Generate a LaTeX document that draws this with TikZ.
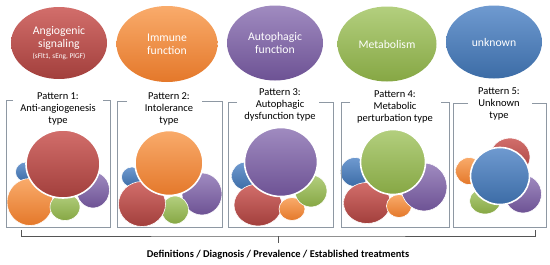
\documentclass[tikz,border=0pt]{standalone}
\usepackage{fontspec}
\setmainfont{Carlito}
\usetikzlibrary{shapes.geometric}
\definecolor{rT}{HTML}{D26E6B}\definecolor{rB}{HTML}{A23F3C}
\definecolor{oT}{HTML}{F9AB6B}\definecolor{oB}{HTML}{E4782A}
\definecolor{pT}{HTML}{A08BC0}\definecolor{pB}{HTML}{6D5294}
\definecolor{gT}{HTML}{B3CF7E}\definecolor{gB}{HTML}{86A744}
\definecolor{bT}{HTML}{6F9AD0}\definecolor{bB}{HTML}{3C6CA6}
\definecolor{frameC}{HTML}{8E98A3}
\definecolor{brC}{HTML}{555555}
\tikzset{
  blob/.style={ellipse, inner sep=0pt, outer sep=0pt, draw=white, line width=0.6pt},
  bigblob/.style={blob, line width=1.6pt},
  redF/.style={top color=rT, bottom color=rB},
  orF/.style={top color=oT, bottom color=oB},
  puF/.style={top color=pT, bottom color=pB},
  grF/.style={top color=gT, bottom color=gB},
  blF/.style={top color=bT, bottom color=bB},
  sz/.style 2 args={minimum width=#1pt, minimum height=#2pt},
  cat/.style={ellipse, inner sep=0pt, text=white, align=center, font=\fontsize{11.7}{13}\selectfont},
  patlabel/.style={align=center, inner sep=0pt, font=\fontsize{10.5}{12}\selectfont},
  frame/.style={draw=frameC, line width=0.9pt},
  brace/.style={draw=brC, line width=0.9pt},
}
\begin{document}
\begin{tikzpicture}[x=1pt, y=-1pt]
\useasboundingbox (0,0) rectangle (550,265);
% top category ellipses
\node[cat, redF, sz={96}{72}] (c1) at (59,43) {Angiogenic\\signaling\\[-2pt]{\fontsize{7.3}{8}\selectfont (sFlt1, sEng, PlGF)}};
\node[cat, orF, sz={101}{76}] (c2) at (167,44) {Immune\\function};
\node[cat, puF, sz={96}{75}] (c3) at (275,43) {Autophagic\\function};
\node[cat, grF, sz={99}{75}] (c4) at (387,44) {Metabolism};
\node[cat, blF, sz={96}{73}] (c5) at (494,42) {unknown};
% pattern labels
\node[patlabel] (l1) at (58,109) {Pattern 1:\\Anti-angiogenesis\\type};
\node[patlabel] (l2) at (169,109) {Pattern 2:\\Intolerance\\type};
\node[patlabel] (l3) at (280,105) {Pattern 3:\\Autophagic\\dysfunction type};
\node[patlabel] (l4) at (395,107) {Pattern 4:\\Metabolic\\perturbation type};
\node[patlabel] (l5) at (499,104) {Pattern 5:\\Unknown\\type};
% box 1
\node[blob, blF, sz={21}{20}] (b1s) at (26,172) {};
\node[blob, puF, sz={33}{36}] (b1p) at (93,190) {};
\node[blob, orF, sz={46}{47}] (b1o) at (30,202) {};
\node[blob, grF, sz={30}{27}] (b1g) at (65,207) {};
\node[bigblob, redF, sz={74}{68}] (b1r) at (63,164) {};
% box 2
\node[blob, blF, sz={21}{20}] (b2b) at (132,177) {};
\node[blob, puF, sz={40}{42}] (b2p) at (202,194) {};
\node[blob, grF, sz={27}{28}] (b2g) at (175,210) {};
\node[blob, redF, sz={47}{45}] (b2r) at (142,204) {};
\node[bigblob, orF, sz={68}{65}] (b2o) at (169,163) {};
% box 3
\node[blob, blF, sz={29}{28}] (b3b) at (246,176) {};
\node[blob, redF, sz={48}{42}] (b3r) at (258,205) {};
\node[blob, orF, sz={26}{23}] (b3o) at (292,209) {};
\node[blob, grF, sz={32}{32}] (b3g) at (311,191) {};
\node[bigblob, puF, sz={73}{69}] (b3p) at (281,162) {};
% box 4
\node[blob, blF, sz={29}{29}] (b4b) at (355,172) {};
\node[blob, redF, sz={47}{41}] (b4r) at (367,203) {};
\node[blob, orF, sz={25}{23}] (b4o) at (399,206) {};
\node[blob, puF, sz={46}{48}] (b4p) at (424,187) {};
\node[bigblob, grF, sz={65}{65}] (b4g) at (393,162) {};
% box 5
\node[blob, redF, sz={40}{38}] (b5r) at (510,157) {};
\node[blob, orF, sz={27}{27}] (b5o) at (469,171) {};
\node[blob, grF, sz={31}{26}] (b5g) at (485,201) {};
\node[blob, puF, sz={37}{38}] (b5p) at (523,194) {};
\node[bigblob, blF, sz={59}{57}] (b5bl) at (500,176) {};
% frames
\draw[frame] (13,100) -| (6,227) -| (110,100) -- (103,100);
\draw[frame] (127,101) -| (117,227) -| (222,101) -- (202,101);
\draw[frame] (237,102) -| (228,227) -| (333,102) -- (319,102);
\draw[frame] (350,102) -| (341,227) -| (449,102) -- (441,102);
\draw[frame] (468,103) -| (453,227) -| (546,103) -- (532,103);
% bracket
\coordinate (bl) at (21,230);
\coordinate (br) at (535,230);
\coordinate (bm) at (278,236);
\node[font=\bfseries\fontsize{10.4}{12}\selectfont, inner sep=0pt] (foot) at (278,255) {Definitions / Diagnosis / Prevalence / Established treatments};
\draw[brace] (bl) |- (bm) -| (br);
\draw[brace] (bm) -- (bm |- 0,243);
\end{tikzpicture}
\end{document}
